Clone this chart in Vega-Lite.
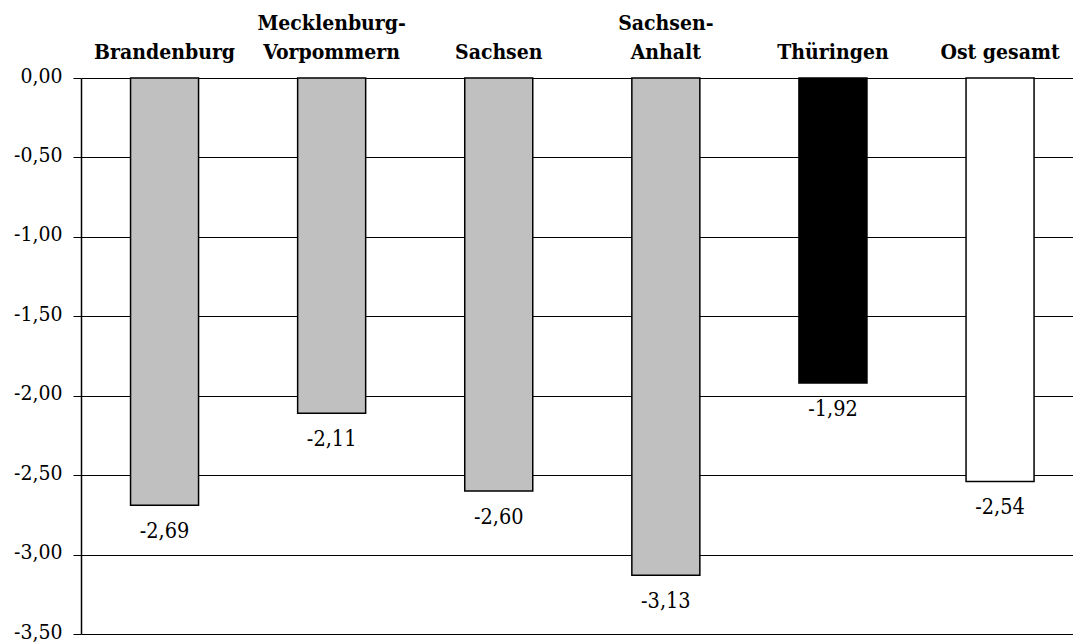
{
  "$schema": "https://vega.github.io/schema/vega-lite/v6.json",
  "autosize": {"type": "none"},
  "width": 992,
  "height": 556,
  "padding": {"left": 81, "top": 78, "right": 0, "bottom": 10},
  "background": "white",
  "config": {
    "view": {"stroke": null},
    "font": "DejaVu Serif Condensed",
    "locale": {"number": {"decimal": ",", "thousands": ".", "grouping": [3], "currency": ["", " €"], "minus": "-"}}
  },
  "data": {
    "values": [
      {"land": "Brandenburg", "wert": -2.69, "gruppe": "Land"},
      {"land": "Mecklenburg-|Vorpommern", "wert": -2.11, "gruppe": "Land"},
      {"land": "Sachsen", "wert": -2.60, "gruppe": "Land"},
      {"land": "Sachsen-|Anhalt", "wert": -3.13, "gruppe": "Land"},
      {"land": "Thüringen", "wert": -1.92, "gruppe": "Thüringen"},
      {"land": "Ost gesamt", "wert": -2.54, "gruppe": "Ost"}
    ]
  },
  "encoding": {
    "x": {
      "field": "land",
      "type": "nominal",
      "sort": null,
      "scale": {"range": [0, 1002.6], "paddingInner": 0.593, "paddingOuter": 0.2965},
      "axis": {
        "orient": "top",
        "title": null,
        "labelAngle": 0,
        "labelFont": "DejaVu Serif Condensed",
        "labelFontWeight": "bold",
        "labelFontSize": 21,
        "labelColor": "black",
        "labelBaseline": "alphabetic",
        "labelPadding": 49,
        "labelLineHeight": 29,
        "labelExpr": "indexof(datum.label, '|') >= 0 ? split(datum.label, '|') : ['', datum.label]",
        "labelOverlap": false,
        "labelLimit": 0,
        "ticks": false,
        "domain": false,
        "grid": false
      }
    },
    "y": {
      "field": "wert",
      "type": "quantitative",
      "scale": {"domain": [-3.5, 0], "nice": false, "zero": true},
      "axis": {
        "title": null,
        "values": [0, -0.5, -1, -1.5, -2, -2.5, -3, -3.5],
        "format": ".2f",
        "labelFont": "DejaVu Serif Condensed",
        "labelFontSize": 21,
        "labelColor": "black",
        "labelPadding": 11,
        "labelBaseline": "alphabetic",
        "labelOffset": 4,
        "labelOverlap": false,
        "tickSize": 8,
        "tickColor": "black",
        "domainColor": "black",
        "domainWidth": 1.5,
        "grid": true,
        "gridColor": "black",
        "gridWidth": 1,
        "gridOpacity": 1
      }
    }
  },
  "layer": [
    {
      "mark": {"type": "bar", "stroke": "black", "strokeWidth": 1.5},
      "encoding": {
        "color": {
          "field": "gruppe",
          "type": "nominal",
          "scale": {"domain": ["Land", "Thüringen", "Ost"], "range": ["#c0c0c0", "#000000", "#ffffff"]},
          "legend": null
        }
      }
    },
    {
      "mark": {"type": "text", "baseline": "alphabetic", "dy": 33, "fontSize": 21.5, "font": "DejaVu Serif Condensed", "color": "black"},
      "encoding": {
        "text": {"field": "wert", "type": "quantitative", "format": ".2f"}
      }
    }
  ]
}
